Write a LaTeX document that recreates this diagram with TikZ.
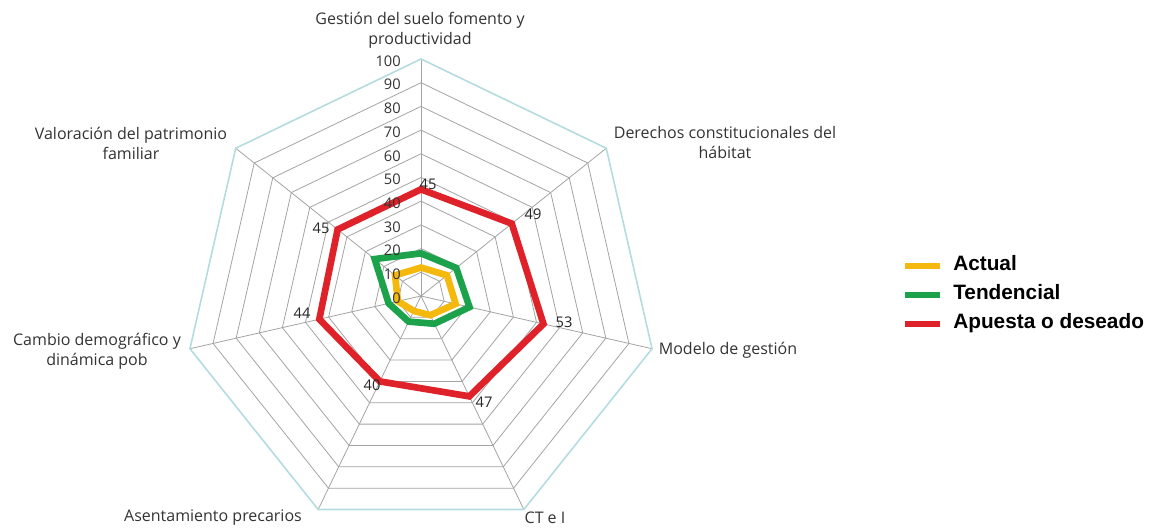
\documentclass[tikz,border=0pt]{standalone}
\usepackage{fontspec}
\setmainfont{Open Sans}
\newfontfamily\legfont{Liberation Sans}
\definecolor{gridgray}{HTML}{A3A3A3}
\definecolor{outercyan}{HTML}{B4DCDF}
\definecolor{actualc}{HTML}{F5B80C}
\definecolor{tendc}{HTML}{1CA24A}
\definecolor{apuc}{HTML}{DF2229}
\definecolor{txt}{HTML}{333333}
\newcommand\hepta[1]{(90:#1) -- (38.5714:#1) -- (-12.8571:#1) -- (-64.2857:#1) -- (-115.7143:#1) -- (-167.1429:#1) -- (141.4286:#1) -- cycle}
\begin{document}
\begin{tikzpicture}[x=0.75pt,y=0.75pt,
  gridline/.style={draw=gridgray,line width=0.6pt},
  outerline/.style={draw=outercyan,line width=1.2pt},
  series/.style={line width=5pt,line join=miter},
  axislbl/.style={text=txt,font=\fontsize{12}{15}\selectfont,align=center,inner sep=0pt},
  scalelbl/.style={text=txt,font=\fontsize{11}{13}\selectfont,inner sep=0pt},
  vallbl/.style={text=black!85,font=\fontsize{11}{13}\selectfont,inner sep=0pt},
  leglbl/.style={font=\legfont\bfseries\fontsize{15.6}{18}\selectfont,inner sep=0pt,anchor=base west},
  legline/.style={line width=4pt}]
\useasboundingbox (0,0) rectangle (1153,528);
\coordinate (C) at (421,232);
% grid
\begin{scope}[shift={(C)}]
  \foreach \i in {1,...,9} { \draw[gridline] \hepta{\i*23.7}; }
  \foreach \a in {90,38.5714,-12.8571,-64.2857,-115.7143,-167.1429,141.4286}
    { \draw[gridline] (0,0) -- (\a:237); }
  \draw[outerline] \hepta{237};
  % series
  \draw[series,draw=actualc] (90:12*2.37) -- (38.5714:14*2.37) -- (-12.8571:15*2.37) -- (-64.2857:9*2.37) -- (-115.7143:7*2.37) -- (-167.1429:10*2.37) -- (141.4286:14*2.37) -- cycle;
  \draw[series,draw=tendc] (90:18*2.37) -- (38.5714:19*2.37) -- (-12.8571:21*2.37) -- (-64.2857:13*2.37) -- (-115.7143:12*2.37) -- (-167.1429:14*2.37) -- (141.4286:25*2.37) -- cycle;
  \draw[series,draw=apuc] (90:45*2.37) -- (38.5714:49*2.37) -- (-12.8571:53*2.37) -- (-64.2857:47*2.37) -- (-115.7143:40*2.37) -- (-167.1429:44*2.37) -- (141.4286:45*2.37) -- cycle;
\end{scope}
% scale labels
\foreach \v in {0,10,...,100}
  { \node[scalelbl,anchor=east] (s\v) at (401,{232+\v*2.37-2}) {\v}; }
% value labels
\node[vallbl] (v1) at (428,344) {45};
\node[vallbl] (v2) at (533,314) {49};
\node[vallbl] (v3) at (564,206) {53};
\node[vallbl] (v4) at (484,126) {47};
\node[vallbl] (v5) at (372,143) {40};
\node[vallbl] (v6) at (302,215) {44};
\node[vallbl] (v7) at (321,300) {45};
% axis labels
\node[axislbl] (a1) at (420,498) {Gestión del suelo fomento y\\productividad};
\node[axislbl] (a2) at (725,385) {Derechos constitucionales del\\hábitat};
\node[axislbl] (a3) at (728,178) {Modelo de gestión};
\node[axislbl] (a4) at (545,10) {CT e I};
\node[axislbl] (a5) at (213,10) {Asentamiento precarios};
\node[axislbl] (a6) at (97,176.5) {Cambio demográfico y\\dinámica pob};
\node[axislbl] (a7) at (131,385) {Valoración del patrimonio\\familiar};
% legend
\coordinate (l1a) at (905,262); \coordinate (l1b) at (940,262);
\coordinate (l2a) at (905,233); \coordinate (l2b) at (940,233);
\coordinate (l3a) at (905,204); \coordinate (l3b) at (940,204);
\draw[legline,draw=actualc] (l1a) -- (l1b);
\draw[legline,draw=tendc] (l2a) -- (l2b);
\draw[legline,draw=apuc] (l3a) -- (l3b);
\node[leglbl] (t1) at (953,257) {Actual};
\node[leglbl] (t2) at (953,228) {Tendencial};
\node[leglbl] (t3) at (953,199) {Apuesta o deseado};
\end{tikzpicture}
\end{document}
